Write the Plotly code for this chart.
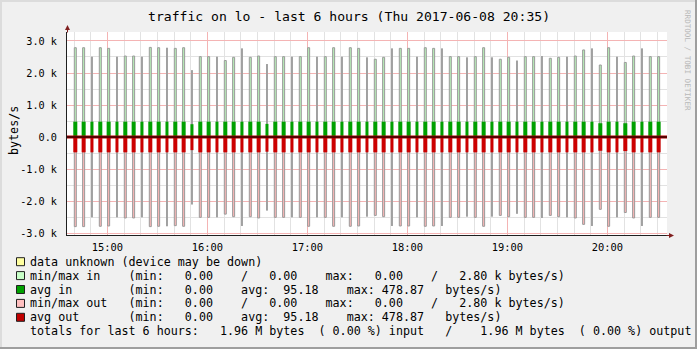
import plotly.graph_objects as go
import pandas as pd

# ---------------- data ----------------
title = "traffic on lo - last 6 hours (Thu 2017-06-08 20:35)"
first_sample = "2017-06-08 14:40:47"
n_samples = 71
step = "5min"
axis_start = "2017-06-08 14:35:48"
axis_end = "2017-06-08 20:35:48"

# max bytes/s per 5-minute step (in k)
max_in = [2.79, 2.79, 2.51, 2.79, 2.77, 2.51, 2.53, 2.53, 2.51, 2.80,
          2.79, 2.79, 2.77, 2.79, 2.09, 2.51, 2.51, 2.51, 2.39, 2.49,
          2.77, 2.49, 2.53, 2.28, 2.51, 2.51, 2.51, 2.51, 2.79, 2.51,
          2.51, 2.79, 2.51, 2.79, 2.77, 2.49, 2.43, 2.49, 2.77, 2.77,
          2.77, 2.51, 2.79, 2.77, 2.77, 2.51, 2.51, 2.49, 2.51, 2.79,
          2.49, 2.43, 2.49, 2.39, 2.51, 2.51, 2.53, 2.46, 2.49, 2.51,
          2.53, 2.72, 2.77, 2.25, 2.79, 2.51, 2.33, 2.53, 2.77, 2.51,
          2.51]
max_out = [2.80, 2.80, 2.51, 2.79, 2.78, 2.51, 2.53, 2.53, 2.51, 2.80,
           2.79, 2.79, 2.77, 2.79, 2.11, 2.51, 2.51, 2.51, 2.41, 2.49,
           2.78, 2.49, 2.53, 2.30, 2.51, 2.51, 2.51, 2.51, 2.79, 2.51,
           2.51, 2.79, 2.51, 2.79, 2.78, 2.49, 2.45, 2.49, 2.78, 2.78,
           2.78, 2.51, 2.79, 2.78, 2.78, 2.51, 2.51, 2.49, 2.51, 2.79,
           2.49, 2.45, 2.49, 2.40, 2.51, 2.51, 2.53, 2.45, 2.49, 2.51,
           2.53, 2.73, 2.78, 2.26, 2.79, 2.51, 2.36, 2.53, 2.78, 2.51,
           2.51]
# average bytes/s per step (in bytes)
avg_in = [478.87] * 14 + [400.0] + [478.87] * 8 + [410.0] + [478.87] * 39 + \
         [430.0] + [478.87] * 2 + [430.0] + [478.87] * 4
avg_out = [478.87] * 14 + [410.0] + [478.87] * 8 + [460.0] + [478.87] * 39 + \
          [430.0] + [478.87] * 2 + [440.0] + [478.87] * 4

y_ticks = [-3000, -2000, -1000, 0, 1000, 2000, 3000]
y_tick_text = ["-3.0 k", "-2.0 k", "-1.0 k", "0.0", "1.0 k", "2.0 k", "3.0 k"]
y_range = [-3062, 3281]

legend_rows = [
    ("#ffffa0", "data unknown (device may be down)"),
    ("#c8ffc8", "min/max in    (min:   0.00    /   0.00    max:   0.00    /   2.80 k bytes/s)"),
    ("#00a000", "avg in        (min:   0.00    avg:  95.18    max: 478.87   bytes/s)"),
    ("#ffc0c0", "min/max out   (min:   0.00    /   0.00    max:   0.00    /   2.80 k bytes/s)"),
    ("#c00000", "avg out       (min:   0.00    avg:  95.18    max: 478.87   bytes/s)"),
    (None, "totals for last 6 hours:   1.96 M bytes  ( 0.00 %) input   /    1.96 M bytes  ( 0.00 %) output"),
]

# ---------------- layout geometry ----------------
W, H = 697, 349
L, R, T, B = 67, 30, 32, 114
PW, PH = W - L - R, H - T - B
MONO = "DejaVu Sans Mono"
MS_PER_PX = 3600000 / 100.0


def px(x):
    return (x - L) / PW


def py(y):
    return (H - B - y) / PH


times = pd.date_range(first_sample, periods=n_samples, freq=step)
gray = [(i + 1) % 3 == 0 for i in range(n_samples)]

max_w = [2 * MS_PER_PX] * n_samples
avg_w = [(3 if g else 4) * MS_PER_PX for g in gray]

fig = go.Figure()

fig.add_trace(go.Bar(
    x=times, y=[v * 1000 for v in max_in], width=max_w,
    marker=dict(color=["#a0a0a0" if g else "#b8f2b8" for g in gray],
                line=dict(color="#9a9a9a", width=[0 if g else 1 for g in gray])),
))
fig.add_trace(go.Bar(
    x=times, y=[-v * 1000 for v in max_out], width=max_w,
    marker=dict(color=["#a0a0a0" if g else "#ffb8b8" for g in gray],
                line=dict(color="#9a9a9a", width=[0 if g else 1 for g in gray])),
))
fig.add_trace(go.Bar(
    x=times, y=avg_in, width=avg_w,
    marker=dict(color="#00a000", line=dict(width=0)),
))
fig.add_trace(go.Bar(
    x=times, y=[-v for v in avg_out], width=avg_w,
    marker=dict(color="#cc0000", line=dict(width=0)),
))
fig.add_trace(go.Scatter(x=[axis_start, axis_end], y=[0, 0], mode="lines",
                         line=dict(color="#b00000", width=3)))
fig.add_trace(go.Scatter(x=[axis_start, axis_end], y=[0, 0], mode="lines",
                         line=dict(color="#000000", width=1)))

annotations = []
# title
annotations.append(dict(x=0.5, y=py(17), xref="paper", yref="paper", xanchor="center",
                        yanchor="middle", showarrow=False, text=title,
                        font=dict(family=MONO, size=13.1, color="#000"),
                        xshift=(W / 2 - (L + PW / 2))))
# unit label
annotations.append(dict(x=px(14), y=py(131), xref="paper", yref="paper", textangle=-90,
                        showarrow=False, text="bytes/s", xanchor="center", yanchor="middle",
                        font=dict(family=MONO, size=11.7, color="#000")))
# watermark
annotations.append(dict(x=px(688), y=py(60), xref="paper", yref="paper", textangle=90,
                        showarrow=False, text="RRDTOOL / TOBI OETIKER", xanchor="center",
                        yanchor="middle", font=dict(family=MONO, size=7.6, color="#b8b8b8")))
# legend
shapes = []
for i, (col, txt) in enumerate(legend_rows):
    yc = 261.7 + 13.9 * i
    annotations.append(dict(x=px(29.5), y=py(yc), xref="paper", yref="paper",
                            xanchor="left", yanchor="middle", showarrow=False,
                            text=txt.replace(" ", "&nbsp;"), borderpad=0, borderwidth=0,
                            font=dict(family=MONO, size=11.7, color="#000")))
    if col:
        shapes.append(dict(type="rect", xref="paper", yref="paper",
                           x0=px(16.5), x1=px(24.5), y0=py(yc + 4), y1=py(yc - 4),
                           fillcolor=col, line=dict(color="#202020", width=1)))
# axis arrows
annotations.append(dict(x=px(67.5), y=py(25), xref="paper", yref="paper", ax=0, ay=9,
                        axref="pixel", ayref="pixel", showarrow=True, text="",
                        arrowhead=2, arrowsize=1, arrowwidth=1, arrowcolor="#801f1f"))
annotations.append(dict(x=px(674), y=py(235.5), xref="paper", yref="paper", ax=-9, ay=0,
                        axref="pixel", ayref="pixel", showarrow=True, text="",
                        arrowhead=2, arrowsize=1, arrowwidth=1, arrowcolor="#801f1f"))
# image frame (shaded border)
shapes.append(dict(type="rect", xref="paper", yref="paper", x0=px(0), x1=px(W), y0=py(H - 2),
                   y1=py(H), fillcolor="#9e9e9e", line=dict(width=0), layer="above"))
shapes.append(dict(type="rect", xref="paper", yref="paper", x0=px(W - 2), x1=px(W), y0=py(H),
                   y1=py(0), fillcolor="#9e9e9e", line=dict(width=0), layer="above"))
shapes.append(dict(type="rect", xref="paper", yref="paper", x0=px(0), x1=px(W - 2), y0=py(2),
                   y1=py(0), fillcolor="#dcdcdc", line=dict(width=0), layer="above"))
shapes.append(dict(type="rect", xref="paper", yref="paper", x0=px(0), x1=px(2), y0=py(H - 2),
                   y1=py(0), fillcolor="#dcdcdc", line=dict(width=0), layer="above"))

fig.update_layout(
    width=W, height=H,
    margin=dict(l=L, r=R, t=T, b=B, pad=0),
    paper_bgcolor="#f0f0f0", plot_bgcolor="#ffffff",
    barmode="overlay", showlegend=False, hovermode=False,
    annotations=annotations, shapes=shapes,
    xaxis=dict(
        type="date", range=[axis_start, axis_end],
        tick0="2017-06-08 15:00:00", dtick=3600000, tickformat="%H:%M",
        showgrid=True, gridcolor="#f4b4b4", gridwidth=1,
        minor=dict(tick0="2017-06-08 15:00:00", dtick=600000, showgrid=True,
                   gridcolor="#e2e2e2", gridwidth=1),
        showline=True, linecolor="#1f1f1f", linewidth=1,
        ticks="", ticklabelstandoff=3, zeroline=False,
        tickfont=dict(family=MONO, size=10.4, color="#000"),
    ),
    yaxis=dict(
        range=y_range, tickvals=y_ticks, ticktext=y_tick_text,
        showgrid=True, gridcolor="#f4b4b4", gridwidth=1,
        minor=dict(dtick=500, tick0=0, showgrid=True, gridcolor="#e2e2e2", gridwidth=1),
        showline=True, linecolor="#1f1f1f", linewidth=1,
        ticks="", ticklabelstandoff=7, zeroline=False,
        tickfont=dict(family=MONO, size=10.2, color="#000"),
    ),
)

fig.write_html("out.html")
